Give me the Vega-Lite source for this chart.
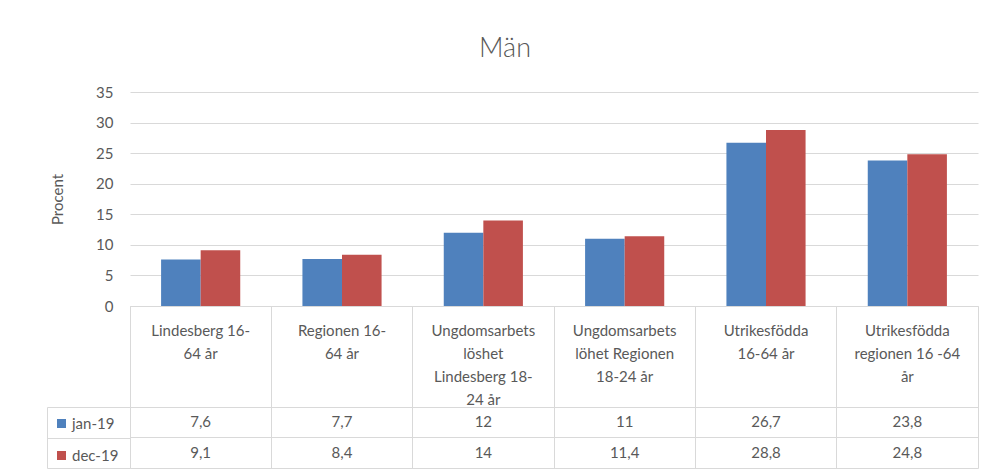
{
  "$schema": "https://vega.github.io/schema/vega-lite/v6.json",
  "background": "white",
  "padding": {"left": 47, "top": 35, "right": 5, "bottom": 0},
  "config": {
    "font": "Lato",
    "view": {"stroke": "#d9d9d9"},
    "axis": {"gridColor": "#d9d9d9", "gridOpacity": 1, "domainColor": "#d9d9d9"},
    "locale": {"number": {"decimal": ",", "thousands": " ", "grouping": [3], "currency": ["", " kr"]}}
  },
  "datasets": {
    "main": [
      {"category": "Lindesberg 16-\n64 år", "series": "jan-19", "value": 7.6},
      {"category": "Regionen 16-\n64 år", "series": "jan-19", "value": 7.7},
      {"category": "Ungdomsarbets\nlöshet\nLindesberg 18-\n24 år", "series": "jan-19", "value": 12},
      {"category": "Ungdomsarbets\nlöhet Regionen\n18-24 år", "series": "jan-19", "value": 11},
      {"category": "Utrikesfödda\n16-64 år", "series": "jan-19", "value": 26.7},
      {"category": "Utrikesfödda\nregionen 16 -64\når", "series": "jan-19", "value": 23.8},
      {"category": "Lindesberg 16-\n64 år", "series": "dec-19", "value": 9.1},
      {"category": "Regionen 16-\n64 år", "series": "dec-19", "value": 8.4},
      {"category": "Ungdomsarbets\nlöshet\nLindesberg 18-\n24 år", "series": "dec-19", "value": 14},
      {"category": "Ungdomsarbets\nlöhet Regionen\n18-24 år", "series": "dec-19", "value": 11.4},
      {"category": "Utrikesfödda\n16-64 år", "series": "dec-19", "value": 28.8},
      {"category": "Utrikesfödda\nregionen 16 -64\når", "series": "dec-19", "value": 24.8}
    ]
  },
  "spacing": 0,
  "bounds": "flush",
  "hconcat": [
    {
      "width": 83, "height": 376,
      "data": {"name": "main"},
      "mark": {"type": "text", "text": ""},
      "view": {"stroke": null},
      "encoding": {
        "y": {"field": "series", "type": "nominal", "sort": ["jan-19", "dec-19"],
          "scale": {"type": "band", "padding": 0, "range": [315, 376]},
          "axis": {"grid": true, "tickBand": "extent", "labels": false, "ticks": false, "domain": true, "title": null}}
      }
    },
    {
      "spacing": 0,
      "bounds": "flush",
      "vconcat": [
        {
          "width": 848, "height": 214,
          "title": {"text": "Män", "fontSize": 27, "font": "Lato", "fontWeight": 300, "color": "#595959", "anchor": "middle", "frame": "group", "dx": -49, "offset": 22},
          "data": {"name": "main"},
          "mark": {"type": "bar"},
          "view": {"stroke": null},
          "encoding": {
            "x": {"field": "category", "type": "nominal", "sort": null,
              "scale": {"paddingInner": 0.44, "paddingOuter": 0.22}, "axis": null},
            "xOffset": {"field": "series", "sort": ["jan-19", "dec-19"], "scale": {"paddingInner": 0, "paddingOuter": 0}},
            "y": {"field": "value", "type": "quantitative",
              "scale": {"domain": [0, 35], "nice": false},
              "axis": {"values": [0, 5, 10, 15, 20, 25, 30, 35], "title": "Procent", "domain": false, "ticks": false,
                "labelFontSize": 15, "labelColor": "#595959", "labelPadding": 17,
                "titleFontSize": 15, "titleFontWeight": "normal", "titleColor": "#595959", "titlePadding": 30}},
            "color": {"field": "series", "type": "nominal", "sort": ["jan-19", "dec-19"],
              "scale": {"domain": ["jan-19", "dec-19"], "range": ["#4F81BD", "#C0504D"]},
              "legend": {"orient": "none", "legendX": 7, "legendY": 324, "title": null, "direction": "vertical",
                "symbolType": "square", "symbolSize": 81, "symbolStrokeWidth": 0, "labelFontSize": 15,
                "labelColor": "#595959", "labelOffset": 3, "rowPadding": 16, "padding": 0}}
          }
        },
        {
          "width": 848, "height": 101,
          "data": {"name": "main"},
          "transform": [{"filter": "datum.series === 'jan-19'"}],
          "mark": {"type": "text", "fontSize": 15, "color": "#595959", "lineBreak": "\n", "lineHeight": 23, "baseline": "middle", "dy": -26},
          "encoding": {
            "x": {"field": "category", "type": "nominal", "sort": null,
              "scale": {"type": "band", "padding": 0},
              "axis": {"grid": true, "bandPosition": 0, "labels": false, "ticks": false, "domain": false, "title": null}},
            "text": {"field": "category"}
          }
        },
        {
          "width": 848, "height": 61,
          "data": {"name": "main"},
          "mark": {"type": "text", "fontSize": 15, "color": "#595959"},
          "encoding": {
            "x": {"field": "category", "type": "nominal", "sort": null,
              "scale": {"type": "band", "padding": 0},
              "axis": {"grid": true, "bandPosition": 0, "labels": false, "ticks": false, "domain": false, "title": null}},
            "y": {"field": "series", "type": "nominal", "sort": ["jan-19", "dec-19"],
              "scale": {"type": "band", "padding": 0},
              "axis": {"grid": true, "bandPosition": 0, "labels": false, "ticks": false, "domain": false, "title": null}},
            "text": {"field": "value", "type": "quantitative", "format": "~g"}
          }
        }
      ]
    }
  ]
}
